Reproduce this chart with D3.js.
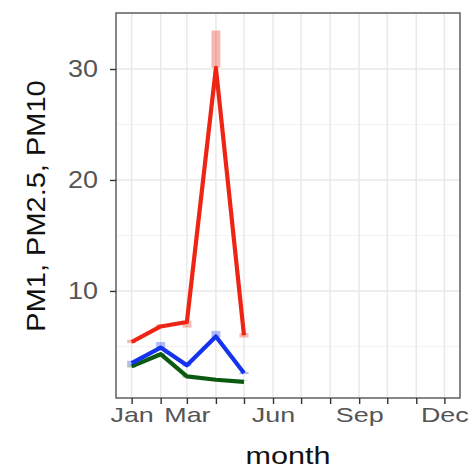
<!DOCTYPE html>
<html><head><meta charset="utf-8">
<script src="https://cdn.jsdelivr.net/npm/d3@7"></script>
<style>body{margin:0;background:#fff}svg{display:block}text{font-family:"Liberation Sans",Arial,sans-serif}</style>
</head><body><svg id="c" width="476" height="469"></svg>
<script>
const months = ["2021-01-01","2021-02-01","2021-03-01","2021-04-01","2021-05-01"];
const pm10 = [5.4, 6.8, 7.2, 30.1, 6.0];
const pm10Lo = [5.3, 6.7, 6.7, 30.1, 5.8];
const pm10Hi = [5.6, 7.0, 7.3, 33.47, 6.2];
const pm25 = [3.5, 4.9, 3.3, 5.9, 2.6];
const pm25Lo = [3.3, 4.8, 3.2, 5.8, 2.5];
const pm25Hi = [3.7, 5.4, 3.4, 6.4, 2.7];
const pm1 = [3.2, 4.3, 2.3, 2.0, 1.8];
const pm1Lo = [3.1, 4.2, 2.2, 1.95, 1.93];
const pm1Hi = [3.3, 4.4, 2.4, 2.05, 1.9];
const yTicks = [10, 20, 30];
const yMinor = [5, 15, 25, 35];
const xLabelMonths = ["Jan","Mar","Jun","Sep","Dec"];

const parse = d3.timeParse("%Y-%m-%d");
const svg = d3.select("#c");
const P = {l:116, r:460, t:13, b:398};
const x0 = parse("2021-01-01"), x1 = parse("2021-12-01");
const span = x1 - x0;
const x = d3.scaleTime().domain([new Date(+x0 - span*0.05), new Date(+x1 + span*0.05)]).range([P.l, P.r]);
const lo = d3.min([...pm1Lo, ...pm25Lo, ...pm10Lo]), hi = d3.max([...pm1Hi, ...pm25Hi, ...pm10Hi]);
const pad = (hi-lo)*0.05;
const y = d3.scaleLinear().domain([lo-pad, hi+pad]).range([P.b, P.t]);

const monthTicks = d3.timeMonth.range(x0, d3.timeMonth.offset(x1,1));
const g = svg.append("g");
g.selectAll(".ym").data(yMinor.filter(v=>y(v)>=P.t)).join("line")
  .attr("x1",P.l).attr("x2",P.r).attr("y1",d=>y(d)).attr("y2",d=>y(d))
  .attr("stroke","#f2f2f2").attr("stroke-width",0.9);
g.selectAll(".yM").data(yTicks).join("line")
  .attr("x1",P.l).attr("x2",P.r).attr("y1",d=>y(d)).attr("y2",d=>y(d))
  .attr("stroke","#e8e8e8").attr("stroke-width",1.4);
g.selectAll(".xM").data(monthTicks).join("line")
  .attr("y1",P.t).attr("y2",P.b).attr("x1",d=>x(d)).attr("x2",d=>x(d))
  .attr("stroke","#e8e8e8").attr("stroke-width",1.4);

const series = [
  {v:pm1, lo:pm1Lo, hi:pm1Hi, c:"#0b5a12"},
  {v:pm25, lo:pm25Lo, hi:pm25Hi, c:"#1433ee"},
  {v:pm10, lo:pm10Lo, hi:pm10Hi, c:"#ee2414"}
];
const dates = months.map(parse);
series.forEach(s=>{
  svg.append("g").selectAll("line").data(s.v).join("line")
    .attr("x1",(d,i)=>x(dates[i])).attr("x2",(d,i)=>x(dates[i]))
    .attr("y1",(d,i)=>y(s.lo[i])).attr("y2",(d,i)=>y(s.hi[i]))
    .attr("stroke",s.c).attr("stroke-opacity",0.33).attr("stroke-width",9);
});
const line = d3.line().x((d,i)=>x(dates[i])).y(d=>y(d));
series.forEach(s=>{
  svg.append("path").attr("d",line(s.v)).attr("fill","none")
    .attr("stroke",s.c).attr("stroke-width",4.2).attr("stroke-linejoin","round");
});

svg.append("rect").attr("x",P.l).attr("y",P.t).attr("width",P.r-P.l).attr("height",P.b-P.t)
  .attr("fill","none").attr("stroke","#555").attr("stroke-width",1.4);

function stretch(sel, f){ sel.each(function(){ const w=this.getComputedTextLength(); if(w>0){ d3.select(this).attr("textLength",w*f).attr("lengthAdjust","spacingAndGlyphs"); } }); }

const xa = svg.append("g").attr("transform",`translate(0,${P.b})`)
  .call(d3.axisBottom(x).tickValues(monthTicks).tickSize(6).tickPadding(18)
    .tickFormat(d=>{const m=d3.timeFormat("%b")(d); return xLabelMonths.includes(m)?m:"";}));
xa.select(".domain").remove();
xa.selectAll("line").attr("stroke","#333").attr("stroke-width",1.4);
xa.selectAll("text").attr("dy",null).attr("fill","#555").attr("font-size",21).attr("font-family","Liberation Sans, Arial, sans-serif");
stretch(xa.selectAll("text"), 1.28);

const ya = svg.append("g").attr("transform",`translate(${P.l},0)`)
  .call(d3.axisLeft(y).tickValues(yTicks).tickSize(6).tickPadding(12));
ya.select(".domain").remove();
ya.selectAll("line").attr("stroke","#333").attr("stroke-width",1.4);
ya.selectAll("text").attr("fill","#555").attr("font-size",23).attr("font-family","Liberation Sans, Arial, sans-serif");
stretch(ya.selectAll("text"), 1.17);

const mt = svg.append("text").attr("x",288).attr("y",464).attr("text-anchor","middle")
  .attr("font-size",23).attr("fill","#111").text("month");
stretch(mt, 1.33);
const yt = svg.append("text").attr("transform",`translate(45,206) rotate(-90)`)
  .attr("text-anchor","middle").attr("font-size",25).attr("fill","#111").text("PM1, PM2.5, PM10");
stretch(yt, 1.16);
</script></body></html>
